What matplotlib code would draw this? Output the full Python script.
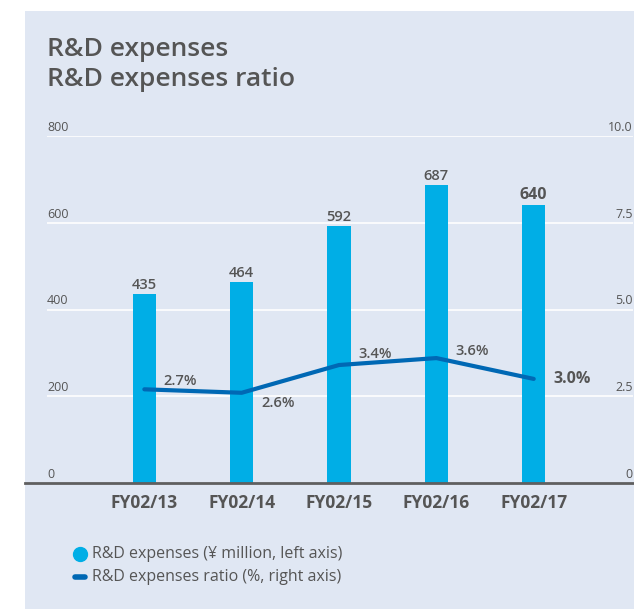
import matplotlib.pyplot as plt
from matplotlib.patches import Rectangle
from matplotlib.lines import Line2D

years = ["FY02/13", "FY02/14", "FY02/15", "FY02/16", "FY02/17"]
expenses = [435, 464, 592, 687, 640]
ratio = [2.7, 2.6, 3.4, 3.6, 3.0]
left_ticks = [0, 200, 400, 600, 800]
right_ticks = [0, 2.5, 5.0, 7.5, 10.0]
right_tick_labels = ["0", "2.5", "5.0", "7.5", "10.0"]

BG = "#E0E7F3"
BAR = "#00AEE6"
LINE = "#0068B4"
TXT = "#555555"
W, H = 634, 609

plt.rcParams["font.family"] = ["Open Sans", "DejaVu Sans"]

fig = plt.figure(figsize=(W / 100, H / 100), dpi=100)
fig.patches.append(Rectangle((25 / W, 0), 1, 1 - 11 / H, transform=fig.transFigure,
                             facecolor=BG, edgecolor="none", zorder=-10))

ax = fig.add_axes([47 / W, 1 - 483 / H, (633 - 47) / W, (483 - 136) / H])
ax.set_facecolor("none")
x = list(range(len(years)))
ax.set_xlim(-1.0, 5.02)
ax.set_ylim(0, 800)
for s in ax.spines.values():
    s.set_visible(False)
for t in left_ticks[1:]:
    ax.axhline(t, color="white", lw=1.2, zorder=1)
for t in left_ticks:
    ax.annotate(str(t), (0, t), xycoords=("axes fraction", "data"), xytext=(0, 1.5),
                textcoords="offset points", ha="left", va="bottom", fontsize=9, color=TXT)

ax.bar(x, expenses, width=0.24, color=BAR, zorder=2)
for i, v in enumerate(expenses):
    last = i == len(expenses) - 1
    ax.annotate(str(v), (i, v), xytext=(0, 1.5), textcoords="offset points", ha="center",
                va="bottom", fontsize=11.5 if last else 10.5,
                fontweight="bold" if last else "semibold", color=TXT)
for i, lab in enumerate(years):
    ax.annotate(lab, (i, 0), xytext=(0, -8), textcoords="offset points", ha="center",
                va="top", fontsize=12.5, fontweight="bold", color=TXT)

ax2 = ax.twinx()
ax2.set_ylim(0, 10)
for s in ax2.spines.values():
    s.set_visible(False)
ax.set_yticks([])
ax.set_xticks([])
ax2.set_yticks([])
for t, lab in zip(right_ticks, right_tick_labels):
    ax2.annotate(lab, (1, t), xycoords=("axes fraction", "data"), xytext=(0, 1.5),
                 textcoords="offset points", ha="right", va="bottom", fontsize=9, color=TXT)
ax2.plot(x, ratio, color=LINE, lw=3, solid_capstyle="round", zorder=3)
offsets = [(14, 6), (14, -7), (14, 8), (14, 5), (14, 0)]
for i, (v, off) in enumerate(zip(ratio, offsets)):
    last = i == len(ratio) - 1
    ax2.annotate(f"{v:.1f}%", (i, v), xytext=off, textcoords="offset points", ha="left",
                 va="center", fontsize=11.5 if last else 10.5,
                 fontweight="bold" if last else "semibold", color=TXT)

# baseline
fig.lines.append(Line2D([25 / W, 1], [1 - 483 / H] * 2, transform=fig.transFigure,
                        color="#5F5F5F", lw=2, zorder=5))

fig.text(47 / W, 1 - 50 / H, "R&D expenses", fontsize=19, color=TXT, ha="left",
         va="center", fontweight="semibold")
fig.text(47 / W, 1 - 80 / H, "R&D expenses ratio", fontsize=19, color=TXT, ha="left",
         va="center", fontweight="semibold")

# legend
fig.lines.append(Line2D([80 / W], [1 - 554 / H], transform=fig.transFigure, marker="o",
                        markersize=10, color=BAR, lw=0))
fig.lines.append(Line2D([75 / W, 85 / W], [1 - 577 / H] * 2, transform=fig.transFigure,
                        color=LINE, lw=4, solid_capstyle="round"))
fig.text(92 / W, 1 - 554 / H, "R&D expenses (¥ million, left axis)", fontsize=11.5,
         color=TXT, va="center")
fig.text(92 / W, 1 - 577 / H, "R&D expenses ratio (%, right axis)", fontsize=11.5,
         color=TXT, va="center")

fig.savefig("out.png", dpi=100)
